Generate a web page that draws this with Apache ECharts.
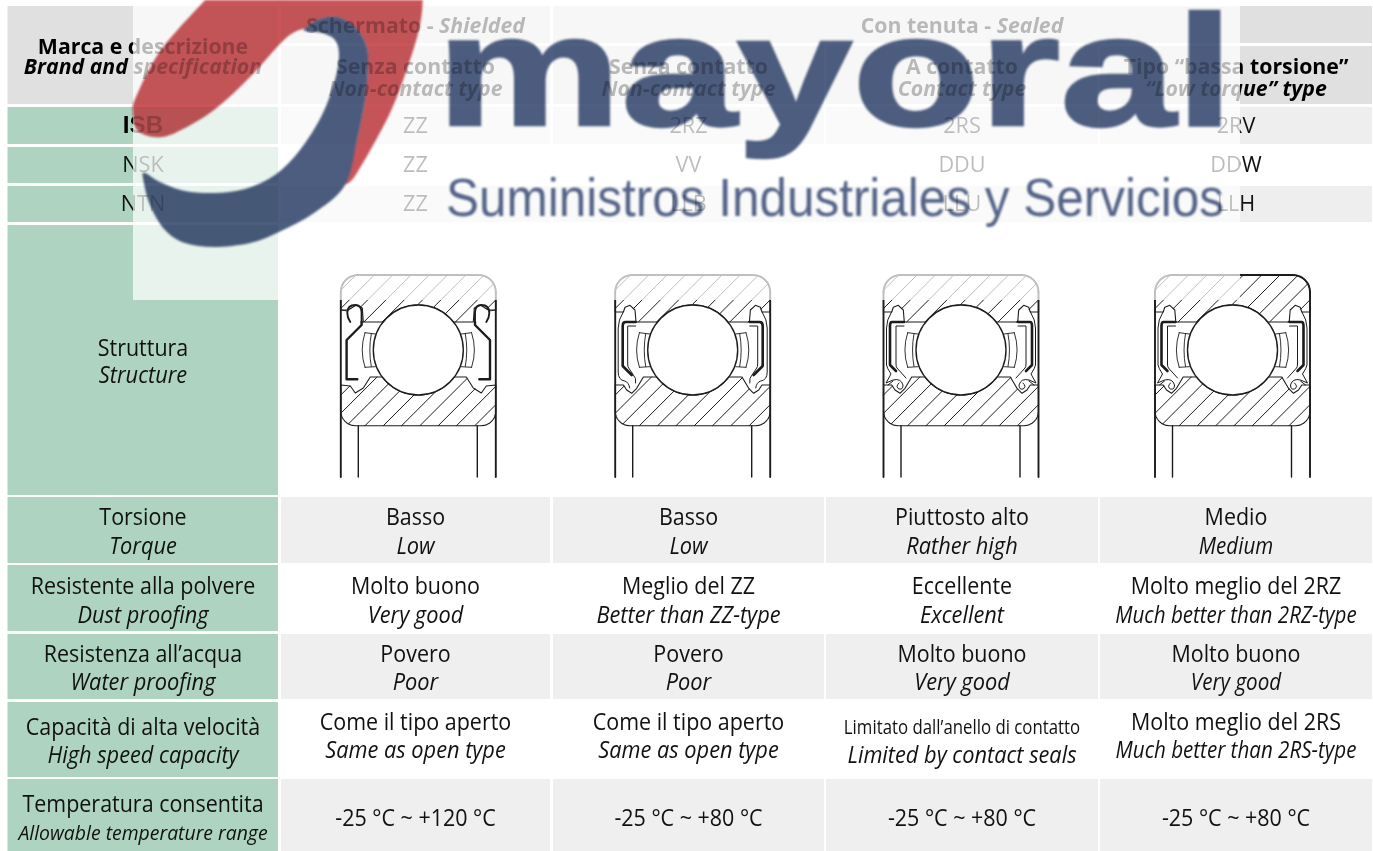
<!DOCTYPE html>
<html><head><meta charset="utf-8">
<style>html,body{margin:0;padding:0;background:#fff}#c{width:1373px;height:851px}
#c canvas{filter:blur(.3px)}
#c canvas + canvas{mix-blend-mode:multiply;filter:blur(.8px)}</style>
<script src="https://cdn.jsdelivr.net/npm/echarts@6/dist/echarts.min.js"></script>
</head><body><div id="c"></div>
<script>
// ---------- content ----------
const cornerHeader = ['Marca e descrizione', 'Brand and specification'];
const familyHeaders = [['Schermato', 'Shielded'], ['Con tenuta', 'Sealed']];
const typeHeaders = [
  ['Senza contatto', 'Non-contact type'],
  ['Senza contatto', 'Non-contact type'],
  ['A contatto', 'Contact type'],
  ['Tipo “bassa torsione”', '“Low torque” type']
];
const brands = ['ISB', 'NSK', 'NTN'];
const isbCodes = ['ZZ', '2RZ', '2RS', '2RV'];
const nskCodes = ['ZZ', 'VV', 'DDU', 'DDW'];
const ntnCodes = ['ZZ', 'LLB', 'LLU', 'LLH'];
const structureLabel = ['Struttura', 'Structure'];
const propertyLabels = [
  ['Torsione', 'Torque'],
  ['Resistente alla polvere', 'Dust proofing'],
  ['Resistenza all’acqua', 'Water proofing'],
  ['Capacità di alta velocità', 'High speed capacity'],
  ['Temperatura consentita', 'Allowable temperature range']
];
const torqueValues = [['Basso','Low'],['Basso','Low'],['Piuttosto alto','Rather high'],['Medio','Medium']];
const dustValues = [['Molto buono','Very good'],['Meglio del ZZ','Better than ZZ-type'],['Eccellente','Excellent'],['Molto meglio del 2RZ','Much better than 2RZ-type']];
const waterValues = [['Povero','Poor'],['Povero','Poor'],['Molto buono','Very good'],['Molto buono','Very good']];
const speedValues = [['Come il tipo aperto','Same as open type'],['Come il tipo aperto','Same as open type'],['Limitato dall’anello di contatto','Limited by contact seals'],['Molto meglio del 2RS','Much better than 2RS-type']];
const tempValues = ['-25 °C ~ +120 °C','-25 °C ~ +80 °C','-25 °C ~ +80 °C','-25 °C ~ +80 °C'];
const logoName = 'mayoral';
const logoTagline = 'Suministros Industriales y Servicios';

// ---------- layout (separate from content) ----------
const W = 1373, H = 851;
const colX = [[281,550],[553,824],[826,1098],[1100,1372]];
const colC = [415.5,688.5,962,1236];
const headX = [7.5,278], headC = 143;
const codeRows = [[107,144],[147,183],[186,222]];
const propRows = [[497,563],[565,631],[634,699],[702,777],[779,851]];
const F = '"Open Sans"';
const kinds = {
  reg:  {font:'23px '+F, sx:.933, fill:'#111'},
  it:   {font:'italic 23px '+F, sx:.946, fill:'#111'},
  itN:  {font:'italic 23px '+F, sx:.895, fill:'#111'},
  itS:  {font:'italic 20px '+F, sx:.97, fill:'#111'},
  tight:{font:'20px '+F, sx:.84, fill:'#111'},
  bold: {font:'bold 21.5px '+F, sx:.99, fill:'#000'},
  boldI:{font:'italic bold 21.5px '+F, sx:.99, fill:'#000'},
  code: {font:'21px '+F, sx:1.03, fill:'#111'},
  arial:{font:'bold 23px "Liberation Sans"', sx:1.05, fill:'#000'}
};
const cells = [], texts = [];
const cell = (x,y,f)=>cells.push({v:[x[0],y[0],x[1],y[1]],f});
const txt = (t,x,y,k)=>texts.push({t,v:[x,y+1.5],k});
// header
cell(headX,[6,104],'#e0e0e0');
cell([281,550],[6,43],'#e0e0e0'); cell([553,1372],[6,43],'#e0e0e0');
colX.forEach(x=>cell(x,[46,104],'#e0e0e0'));
txt(cornerHeader[0],headC,46,'bold'); txt(cornerHeader[1],headC,66,'boldI');
texts.push({rich:familyHeaders[0],v:[colC[0],27],k:'bold'});
texts.push({rich:familyHeaders[1],v:[colC[2],27],k:'bold'});
typeHeaders.forEach((h,i)=>{txt(h[0],colC[i],66,'bold');txt(h[1],colC[i],88,'boldI');});
// brand rows
[isbCodes,nskCodes,ntnCodes].forEach((codes,r)=>{
  const y=codeRows[r], m=(y[0]+y[1])/2;
  cell(headX,y,'#aed4c1');
  if(r!==1) colX.forEach(x=>cell(x,y,'#eeeeee'));
  txt(brands[r],headC,m,r===0?'arial':'code');
  codes.forEach((c,i)=>txt(c,colC[i],m,'code'));
});
// structure row
cell(headX,[225,495],'#aed4c1');
txt(structureLabel[0],headC,348,'reg'); txt(structureLabel[1],headC,375,'it');
// property rows
const lineY = [[517,546],[585.5,614.5],[654,682],[722,750],[804,833]];
const labelY = [[517,546],[585.5,614.5],[654,682],[727,755],[804,833]];
[torqueValues,dustValues,waterValues,speedValues].forEach((vals,r)=>{
  const y=propRows[r];
  cell(headX,y,'#aed4c1');
  if(r%2===0) colX.forEach(x=>cell(x,y,'#efefef'));
  txt(propertyLabels[r][0],headC,labelY[r][0],'reg');
  txt(propertyLabels[r][1],headC,labelY[r][1],'it');
  vals.forEach((v,i)=>{
    const nar = r===3 && i===2;
    txt(v[0],colC[i],nar?727:lineY[r][0],nar?'tight':'reg');
    txt(v[1],colC[i],nar?755:lineY[r][1],i===3?'itN':'it');
  });
});
cell(headX,propRows[4],'#aed4c1');
colX.forEach(x=>cell(x,propRows[4],'#efefef'));
txt(propertyLabels[4][0],headC,804,'reg'); txt(propertyLabels[4][1],headC,833,'itS');
tempValues.forEach((v,i)=>txt(v,colC[i],818,'reg'));

// ---------- bearing section drawing helpers ----------
const bearingCentres = [418.3,692.7,961,1232.5];
const bearingY = 350;
const arc=(cx,cy,r,a0,a1,n)=>{const o=[];for(let i=0;i<=n;i++){const a=(a0+(a1-a0)*i/n)*Math.PI/180;o.push([cx+r*Math.cos(a),cy+r*Math.sin(a)]);}return o;};
const flipX=p=>p.map(q=>[-q[0],q[1]]);
function ringPolys(t){
  const wall=77.5;
  const upper = t===0
    ? [[-wall,-40],[-70,-40],[-62,-45],[-56,-42],[-55,-28],[-36,-28]]
    : [[-wall,-38],[-69.3,-38],[-67.7,-42.7],[-62.7,-44.7],[-57.7,-40],[-56.7,-28],[-35.2,-28]];
  const lower = t===0
    ? [[-wall,35],[-68,36],[-63,43],[-55,38],[-48,27],[-36,27]]
    : [[-wall,35],[-69.3,35],[-66,40],[-61,43.3],[-56,38.3],[-49.3,27],[-36,27]];
  const ua=Math.atan2(28,-upper[upper.length-1][0])*180/Math.PI;
  const la=Math.atan2(27,36)*180/Math.PI;
  const ballTop=arc(0,0,45,360-ua,180+ua,24);
  const ballBot=arc(0,0,45,180-la,la,24);
  const outer=[...arc(-60.5,-58,17,180,270,8),...arc(60.5,-58,17,270,360,8),...flipX(upper),...ballTop,...upper.slice().reverse()];
  const inner=[...lower,...ballBot,...flipX(lower).reverse(),...arc(63,60,wall-63,0,90,8).map(p=>[p[0],p[1]+1.2]),...arc(-63,60,wall-63,90,180,8).map(p=>[p[0],p[1]+1.2])];
  return {outer,inner};
}
function hatch(poly,c0){
  let d='';
  for(let c=c0-18.3*12;c<200;c+=18.3){
    const xs=[];
    for(let i=0;i<poly.length;i++){
      const a=poly[i],b=poly[(i+1)%poly.length];
      const fa=a[0]+a[1]-c,fb=b[0]+b[1]-c;
      if((fa<0)!==(fb<0)) xs.push(a[0]+(b[0]-a[0])*fa/(fa-fb));
    }
    xs.sort((p,q)=>p-q);
    for(let i=0;i+1<xs.length;i+=2) d+=`M${xs[i].toFixed(2)} ${(c-xs[i]).toFixed(2)}L${xs[i+1].toFixed(2)} ${(c-xs[i+1]).toFixed(2)}`;
  }
  return d;
}
const polyPath=p=>'M'+p.map(q=>q[0].toFixed(2)+' '+q[1].toFixed(2)).join('L')+'Z';
const shieldBold='M-61 29.3L-71.7 29.3L-71.7 -10L-56.7 -25L-56.7 -28';
const shieldHook='M-56.7 -28L-56.7 -38Q-57 -45 -63 -45Q-71 -45 -71 -37Q-71 -32 -68 -28';
const shieldStub='M-77.5 -40L-71 -39';
const cage='M-53.3 -17.3L-43 -16M-53.3 17.3L-43 16.7M-53.3 -17.3Q-59 0 -53.3 17.3M-47 -16.2Q-50 0 -47 16.5';
const sealCore=['','M-57 -28L-67 -28Q-70 -28 -70 -24L-70 16L-61 25','M-57 -28L-69 -28Q-71 -28 -71 -24L-71 15L-65 21'];
const sealRubber=['',
 'M-69.5 -38Q-74.5 -30 -74.5 -22L-74.5 22Q-74.5 30 -68 31Q-64 32 -63 38M-57 33Q-56 28 -60 24L-64 18Q-65 17 -65 14L-65 -24L-57 -24',
 'M-69.5 -38Q-74.5 -30 -74.5 -22L-74.5 15Q-74 18 -70 24L-75 33L-68 30Q-60 28 -58 35Q-58 40 -62 39Q-66 37 -62 33M-73 35L-68 31M-55 28L-64 18Q-65 17 -65 14L-65 -24L-57 -24'];

function bearingItem(params,api){
  const p=api.coord([api.value(0),api.value(1)]);
  const t=params.dataIndex===0?0:(params.dataIndex===1?1:2);
  const rp=ringPolys(t);
  const ink='#1c1c1c';
  const sl=(d,w,extra)=>Object.assign({type:'path',shape:{pathData:d},style:{fill:null,stroke:ink,lineWidth:w,lineCap:'round',lineJoin:'round'}},extra||{});
  const kids=[
    sl(hatch(rp.outer,-119),1),
    sl(hatch(rp.inner,22.4),1),
    sl(polyPath(rp.outer),1.1),
    sl(polyPath(rp.inner),1.1),
    sl('M-77.5 -58L-77.5 127M77.5 -58L77.5 127',1.9),
    sl('M-60 75.7L-60 127M59 75.7L59 127',1.4),
    sl(polyPath(arc(-60.5,-58,17,180,270,8).concat(arc(60.5,-58,17,270,360,8))).replace('Z',''),1.9),
    sl(cage,.9), sl(cage,.9,{scaleX:-1}),
    {type:'circle',shape:{cx:0,cy:0,r:45},style:{fill:'#fff',stroke:ink,lineWidth:1.4}}
  ];
  const add=(d,w)=>{kids.push(sl(d,w));kids.push(sl(d,w,{scaleX:-1}));};
  if(t===0){add(shieldBold,2.4);add(shieldHook,1.9);add(shieldStub,.9);}
  else{add(sealCore[t],2.6);add(sealRubber[t],1);}
  return {type:'group',x:p[0],y:p[1],children:kids};
}

// ---------- logo ----------
function smooth(pts){
  let d=`M${pts[0][0]} ${pts[0][1]}`;
  for(let i=0;i<pts.length-1;i++){
    const a=pts[Math.max(0,i-1)],b=pts[i],c=pts[i+1],e=pts[Math.min(pts.length-1,i+2)];
    d+=`C${(b[0]+(c[0]-a[0])/6).toFixed(1)} ${(b[1]+(c[1]-a[1])/6).toFixed(1)} ${(c[0]-(e[0]-b[0])/6).toFixed(1)} ${(c[1]-(e[1]-b[1])/6).toFixed(1)} ${c[0]} ${c[1]}`;
  }
  return d;
}
const shared=[[305,28],[320,19],[337,17],[355,27],[366,45],[368,65],[365,100],[357,140],[345,185]];
const redPath=smooth([[207,-2],[161,50],[136,97],[133,113],[137,130],[154,137],[175,133],[214,110],[250,77],[286,38],[305,28]])
  +smooth(shared).replace(/^M[^C]*/,'')
  +smooth([[345,185],[357,173],[390,113],[410,60],[420,25],[423,-2]]).replace(/^M[^C]*/,'')+'Z';
const bluePath=smooth([...shared,[314,213],[279,232],[250,243],[214,247],[185,243],[165,230],[150,205],[143,178],[145,173],[160,182],[185,191],[214,193],[245,189],[275,175],[300,150],[322,115],[335,80],[339,55],[335,40],[322,33],[305,31],[305,28]])+'Z';
const logoItems=[
 {type:'path',shape:{pathData:redPath},style:{fill:'#c9555a'}},
 {type:'path',shape:{pathData:bluePath},style:{fill:'#4c5d80'}},
 {type:'text',x:835,y:81,scaleX:1.315,style:{text:logoName,font:'bold 158px "Liberation Sans"',fill:'#4e5f82',stroke:'#4e5f82',lineWidth:2.5,textAlign:'center',textVerticalAlign:'middle'}},
 {type:'text',x:835,y:201.5,scaleX:.916,style:{text:logoTagline,font:'54px "Liberation Sans"',fill:'#55658a',textAlign:'center',textVerticalAlign:'middle'}}
];

const base={type:'custom',coordinateSystem:'cartesian2d',silent:true,animation:false,clip:false};
const option={
  backgroundColor:'#ffffff',animation:false,
  grid:{left:0,right:0,top:0,bottom:0},
  xAxis:{type:'value',min:0,max:W,show:false},
  yAxis:{type:'value',min:0,max:H,inverse:true,show:false},
  series:[
    Object.assign({},base,{name:'cells',z:1,data:cells.map(c=>c.v),
      renderItem(p,api){
        const a=api.coord([api.value(0),api.value(1)]),b=api.coord([api.value(2),api.value(3)]);
        return {type:'rect',shape:{x:a[0],y:a[1],width:b[0]-a[0],height:b[1]-a[1]},style:{fill:cells[p.dataIndex].f}};
      }}),
    Object.assign({},base,{name:'texts',z:2,data:texts.map(t=>t.v),
      renderItem(p,api){
        const o=texts[p.dataIndex],k=kinds[o.k],c=api.coord([api.value(0),api.value(1)]);
        const style={fill:k.fill,font:k.font,textAlign:'center',textVerticalAlign:'middle'};
        if(o.rich){
          style.text=`{a|${o.rich[0]} - }{b|${o.rich[1]}}`;
          style.rich={a:{font:kinds.bold.font,fill:k.fill},b:{font:kinds.boldI.font,fill:k.fill}};
        } else style.text=o.t;
        return {type:'text',x:c[0],y:c[1],scaleX:k.sx,style};
      }}),
    Object.assign({},base,{name:'bearings',z:3,data:bearingCentres.map(x=>[x,bearingY]),renderItem:bearingItem}),
    Object.assign({},base,{name:'veil',z:4,data:[[133,0,1240,300]],
      renderItem(p,api){
        const a=api.coord([api.value(0),api.value(1)]),b=api.coord([api.value(2),api.value(3)]);
        return {type:'rect',shape:{x:a[0],y:a[1],width:b[0]-a[0],height:b[1]-a[1]},style:{fill:'rgba(255,255,255,0.72)'}};
      }}),
    Object.assign({},base,{name:'logo',zlevel:1,z:5,data:logoItems.map((l,i)=>[i,0]),
      renderItem(p){return logoItems[p.dataIndex];}})
  ]
};
const chart=echarts.init(document.getElementById('c'),null,{renderer:'canvas',width:W,height:H});
chart.setOption(option);
</script></body></html>
